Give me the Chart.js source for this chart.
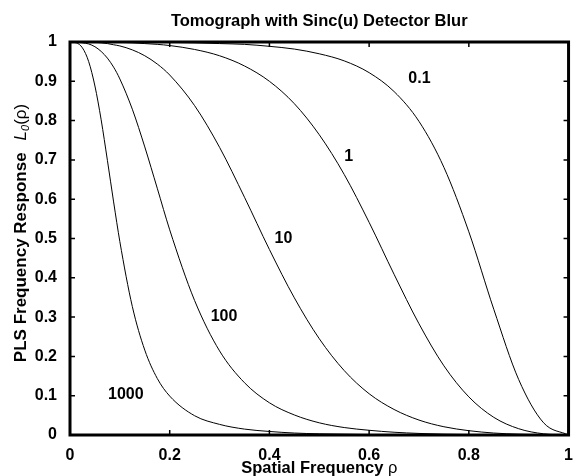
<!DOCTYPE html>
<html>
<head>
<meta charset="utf-8">
<script src="https://cdn.jsdelivr.net/npm/chart.js@4.4.1/dist/chart.umd.min.js"></script>
<style>
  html, body { margin: 0; padding: 0; background: #fff; }
</style>
</head>
<body>
<canvas id="plsChart" width="576" height="476"></canvas>
<script>
// spatial frequency samples (denser near 0 where the high-beta curves drop)
const rho = [0, 0.0125, 0.025, 0.0375, 0.05, 0.0625, 0.075, 0.0875, 0.1, 0.125, 0.15, 0.175, 0.2,
  0.25, 0.3, 0.35, 0.4, 0.45, 0.5, 0.55, 0.6, 0.65, 0.7, 0.75, 0.8, 0.85, 0.9, 0.95, 1];

// PLS frequency response L0(rho), one list per regularization weight
const beta01 = [1, 1, 1, 1, 1, 1, 1, 1, 1, 1, 1, 1, 0.999,
  0.998, 0.996, 0.994, 0.989, 0.982, 0.970, 0.952, 0.922, 0.874, 0.798, 0.681, 0.517, 0.320, 0.141, 0.031, 0];
const beta1 = [1, 1, 1, 1, 1, 1, 1, 1, 0.999, 0.998, 0.996, 0.994, 0.991,
  0.981, 0.965, 0.939, 0.900, 0.843, 0.764, 0.663, 0.541, 0.409, 0.283, 0.176, 0.097, 0.045, 0.016, 0.003, 0];
const beta10 = [1, 1, 1, 0.9995, 0.999, 0.998, 0.996, 0.993, 0.990, 0.980, 0.965, 0.944, 0.916,
  0.838, 0.732, 0.605, 0.472, 0.349, 0.245, 0.164, 0.105, 0.065, 0.038, 0.021, 0.011, 0.005, 0.002, 0.0003, 0];
const beta100 = [1, 1, 0.998, 0.995, 0.988, 0.976, 0.959, 0.936, 0.906, 0.829, 0.733, 0.628, 0.522,
  0.342, 0.214, 0.133, 0.082, 0.051, 0.031, 0.019, 0.012, 0.007, 0.004, 0.002, 0.001, 0.0005, 0.0002, 0, 0];
const beta1000 = [1, 0.998, 0.985, 0.950, 0.888, 0.802, 0.699, 0.593, 0.492, 0.327, 0.216, 0.144, 0.099,
  0.049, 0.027, 0.015, 0.009, 0.005, 0.003, 0.002, 0.001, 0.0007, 0.0004, 0.0002, 0.0001, 0, 0, 0, 0];

const betaNames = ['0.1', '1', '10', '100', '1000'];
const xTicks = [0, 0.2, 0.4, 0.6, 0.8, 1];
const yTicks = [0, 0.1, 0.2, 0.3, 0.4, 0.5, 0.6, 0.7, 0.8, 0.9, 1];

// where each beta value is written next to its curve (data units)
const tagRho = [0.701, 0.559, 0.428, 0.309, 0.112];
const tagL = [0.908, 0.708, 0.501, 0.301, 0.102];

const FONT = '"Liberation Sans", Arial, Helvetica, sans-serif';
const FS = 16;

const allSeries = [beta01, beta1, beta10, beta100, beta1000];

// draws a run of differently styled text pieces starting at x (baseline y)
function drawRuns(ctx, runs, x, y) {
  runs.forEach(r => {
    ctx.font = r.font;
    ctx.fillText(r.text, x, y + (r.dy || 0));
    x += ctx.measureText(r.text).width + (r.gap || 0);
  });
}
function runsWidth(ctx, runs) {
  let w = 0;
  runs.forEach(r => { ctx.font = r.font; w += ctx.measureText(r.text).width + (r.gap || 0); });
  return w;
}

// matlab-like box: thick frame, inward ticks on all four sides, title and labels
const boxPlugin = {
  id: 'matlabBox',
  afterDraw(chart) {
    const { ctx, chartArea: a, scales: { x, y } } = chart;
    ctx.save();
    ctx.strokeStyle = '#000';
    ctx.fillStyle = '#000';

    ctx.lineWidth = 1.5;
    ctx.beginPath();
    xTicks.forEach(v => {
      const px = x.getPixelForValue(v);
      ctx.moveTo(px, a.bottom); ctx.lineTo(px, a.bottom - 5);
      ctx.moveTo(px, a.top); ctx.lineTo(px, a.top + 5);
    });
    yTicks.forEach(v => {
      const py = y.getPixelForValue(v);
      ctx.moveTo(a.left, py); ctx.lineTo(a.left + 5, py);
      ctx.moveTo(a.right, py); ctx.lineTo(a.right - 5, py);
    });
    ctx.stroke();

    ctx.lineWidth = 3;
    ctx.strokeRect(a.left, a.top, a.right - a.left, a.bottom - a.top);

    // curve tags
    ctx.font = `bold ${FS}px ${FONT}`;
    ctx.textAlign = 'center';
    ctx.textBaseline = 'middle';
    betaNames.forEach((name, i) => {
      ctx.fillText(name, x.getPixelForValue(tagRho[i]), y.getPixelForValue(tagL[i]));
    });

    // title
    ctx.textBaseline = 'alphabetic';
    ctx.font = `bold 16.5px ${FONT}`;
    ctx.fillText('Tomograph with Sinc(u) Detector Blur', (a.left + a.right) / 2, 26);

    // x axis title
    ctx.textAlign = 'left';
    const xRuns = [
      { text: 'Spatial Frequency ', font: `bold 16.5px ${FONT}` },
      { text: 'ρ', font: `16.5px ${FONT}` }
    ];
    const xw = runsWidth(ctx, xRuns);
    drawRuns(ctx, xRuns, (a.left + a.right) / 2 - xw / 2, 473);

    // y axis title, rotated
    const yRuns = [
      { text: 'PLS Frequency Response', font: `bold 17px ${FONT}`, gap: 12 },
      { text: 'L', font: `italic 17px ${FONT}` },
      { text: '0', font: `italic 11px ${FONT}`, dy: 3 },
      { text: '(ρ)', font: `17px ${FONT}` }
    ];
    const yw = runsWidth(ctx, yRuns);
    ctx.translate(26, 233);
    ctx.rotate(-Math.PI / 2);
    drawRuns(ctx, yRuns, -yw / 2, 0);

    ctx.restore();
  }
};

const tickFont = { family: FONT, size: FS, weight: 'bold' };

new Chart(document.getElementById('plsChart'), {
  type: 'line',
  data: {
    datasets: allSeries.map((vals, i) => ({
      label: betaNames[i],
      data: rho.map((r, j) => ({ x: r, y: vals[j] })),
      borderColor: '#000',
      borderWidth: 1,
      pointRadius: 0,
      fill: false,
      cubicInterpolationMode: 'monotone'
    }))
  },
  options: {
    responsive: false,
    animation: false,
    layout: { padding: { top: 42, right: 4, left: 0, bottom: 0 } },
    plugins: { legend: { display: false }, tooltip: { enabled: false }, title: { display: false } },
    scales: {
      x: {
        type: 'linear', min: 0, max: 1,
        grid: { display: false }, border: { display: false },
        afterBuildTicks: s => { s.ticks = xTicks.map(v => ({ value: v })); },
        afterFit: s => { s.height = 41; },
        ticks: { color: '#000', font: tickFont, padding: 3, maxRotation: 0, autoSkip: false, callback: v => String(v) }
      },
      y: {
        type: 'linear', min: 0, max: 1,
        grid: { display: false }, border: { display: false },
        afterBuildTicks: s => { s.ticks = yTicks.map(v => ({ value: v })); },
        afterFit: s => { s.width = 70; },
        ticks: { color: '#000', font: tickFont, padding: 5, autoSkip: false, callback: v => String(v) }
      }
    }
  },
  plugins: [boxPlugin]
});
</script>
</body>
</html>
